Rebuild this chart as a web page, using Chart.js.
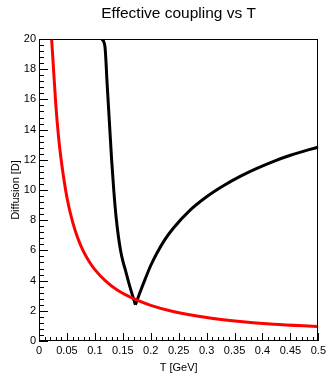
<!DOCTYPE html>
<html><head><meta charset="utf-8">
<script src="https://cdn.jsdelivr.net/npm/chart.js@4.4.1/dist/chart.umd.min.js"></script>
<style>html,body{margin:0;padding:0;background:#fff}#wrap{width:329px;height:373px}</style>
</head><body><div id="wrap"><canvas id="c" width="329" height="373"></canvas></div>
<script>
const chartTitle = 'Effective coupling vs T';
const xAxisTitle = 'T [GeV]';
const yAxisTitle = 'Diffusion [D]';

// red curve
const redT = [0.0226, 0.025, 0.030, 0.035, 0.040, 0.050, 0.060, 0.070, 0.080, 0.090, 0.100, 0.120, 0.140, 0.1726, 0.200, 0.240, 0.300, 0.360, 0.420, 0.500];
const redD = [20.0, 18.6, 15.7, 13.5, 11.9, 9.5, 7.9, 6.75, 5.9, 5.25, 4.73, 3.95, 3.38, 2.75, 2.36, 1.95, 1.55, 1.29, 1.11, 0.96];

// black curve
const blackT = [0.1125, 0.118, 0.122, 0.126, 0.130, 0.134, 0.138, 0.142, 0.146, 0.150, 0.155, 0.160, 0.165, 0.1726, 0.180, 0.190, 0.200, 0.210, 0.225, 0.240, 0.270, 0.300, 0.330, 0.360, 0.390, 0.420, 0.450, 0.500];
const blackD = [20.0, 19.5, 17.0, 14.5, 12.0, 9.9, 8.2, 6.95, 6.0, 5.3, 4.65, 3.95, 3.3, 2.4, 3.15, 4.1, 5.0, 5.75, 6.7, 7.45, 8.65, 9.55, 10.28, 10.9, 11.43, 11.9, 12.3, 12.85];

const xMin = 0, xMax = 0.5, xMajorStep = 0.05, xMinorStep = 0.01;
const yMin = 0, yMax = 20, yMajorStep = 2, yMinorStep = 0.4;
const xTickLabels = ['0','0.05','0.1','0.15','0.2','0.25','0.3','0.35','0.4','0.45','0.5'];
const yTickLabels = ['0','2','4','6','8','10','12','14','16','18','20'];

const FONT = '"Liberation Sans", Arial, Helvetica, sans-serif';

const toPts = (xs, ys) => xs.map((x, i) => ({x, y: ys[i]}));
// split black curve at its minimum so the cusp stays sharp
const bMin = blackD.indexOf(Math.min(...blackD));
const blackLeft = toPts(blackT.slice(0, bMin + 1), blackD.slice(0, bMin + 1));
const blackRight = toPts(blackT.slice(bMin), blackD.slice(bMin));

const rootFrame = {
  id: 'rootFrame',
  afterDraw(chart) {
    const {ctx, chartArea: a, scales: {x, y}} = chart;
    ctx.save();
    ctx.strokeStyle = '#000';
    ctx.lineWidth = 1;
    ctx.beginPath();
    const nx = Math.round((xMax - xMin) / xMinorStep);
    for (let i = 0; i <= nx; i++) {
      const px = Math.round(x.getPixelForValue(xMin + i * xMinorStep)) + 0.5;
      const len = (i % 5 === 0) ? 8 : 4;
      ctx.moveTo(px, a.bottom); ctx.lineTo(px, a.bottom - len);
    }
    const ny = Math.round((yMax - yMin) / yMinorStep);
    for (let i = 0; i <= ny; i++) {
      const py = Math.round(y.getPixelForValue(yMin + i * yMinorStep)) + 0.5;
      const len = (i % 5 === 0) ? 9 : 5;
      ctx.moveTo(a.left, py); ctx.lineTo(a.left + len, py);
    }
    ctx.stroke();
    ctx.strokeRect(Math.round(a.left) + 0.5, Math.round(a.top) + 0.5, Math.round(a.right - a.left) - 1, Math.round(a.bottom - a.top) - 1);
    ctx.fillStyle = '#000';
    ctx.font = '15.5px ' + FONT;
    ctx.textAlign = 'center';
    ctx.textBaseline = 'middle';
    ctx.fillText(chartTitle, (a.left + a.right) / 2, 14);
    ctx.restore();
  }
};

const lineStyle = {showLine: true, borderWidth: 3, pointRadius: 0, cubicInterpolationMode: 'monotone', fill: false};

new Chart(document.getElementById('c'), {
  type: 'scatter',
  data: {
    datasets: [
      Object.assign({data: toPts(redT, redD), borderColor: '#ff0000'}, lineStyle),
      Object.assign({data: blackLeft, borderColor: '#000000'}, lineStyle),
      Object.assign({data: blackRight, borderColor: '#000000'}, lineStyle)
    ]
  },
  options: {
    responsive: false,
    animation: false,
    devicePixelRatio: 1,
    layout: {padding: {left: 0, right: 8.3, top: 39, bottom: 0}},
    plugins: {legend: {display: false}, tooltip: {enabled: false}, title: {display: false}},
    scales: {
      x: {
        type: 'linear', min: xMin, max: xMax,
        afterFit: s => { s.height = 32; },
        afterBuildTicks: s => { s.ticks = xTickLabels.map((l, i) => ({value: xMin + i * xMajorStep})); },
        ticks: {color: '#000', font: {family: FONT, size: 11}, padding: 3, maxRotation: 0, autoSkip: false,
          callback: (v, i) => xTickLabels[i]},
        grid: {display: false, drawTicks: false},
        border: {display: false},
        title: {display: true, text: xAxisTitle, color: '#000', font: {family: FONT, size: 11, lineHeight: 1.0}, padding: {top: 0, bottom: 0}}
      },
      y: {
        type: 'linear', min: yMin, max: yMax,
        afterFit: s => { s.width = 39; },
        afterBuildTicks: s => { s.ticks = yTickLabels.map((l, i) => ({value: yMin + i * yMajorStep})); },
        ticks: {color: '#000', font: {family: FONT, size: 11}, padding: 3, autoSkip: false,
          callback: (v, i) => yTickLabels[i]},
        grid: {display: false, drawTicks: false},
        border: {display: false},
        title: {display: true, text: yAxisTitle, color: '#000', font: {family: FONT, size: 11, lineHeight: 1.0}, padding: {top: 10, bottom: 0}}
      }
    }
  },
  plugins: [rootFrame]
});
</script></body></html>
